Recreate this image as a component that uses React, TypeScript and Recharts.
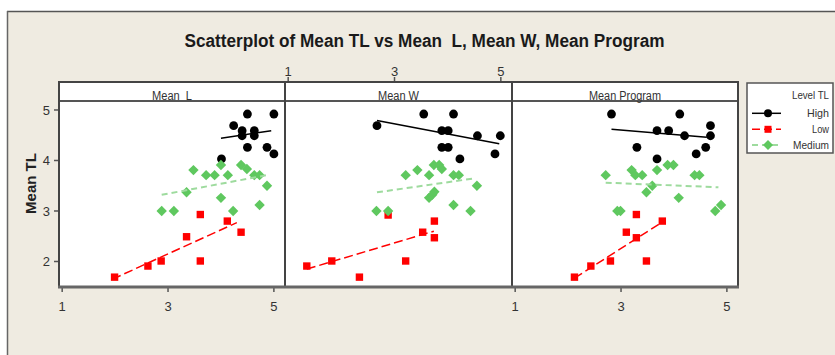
import React from 'react';
import { ScatterChart, Scatter, XAxis, YAxis, CartesianGrid } from 'recharts';

const xTicks = [1, 3, 5];
const yTicks = [2, 3, 4, 5];
const panelTitles = ['Mean  L', 'Mean W', 'Mean Program'];
const levelNames = ['High', 'Low', 'Medium'];

// Mean L panel
const meanLHigh = [[4.50, 4.92], [5.00, 4.92], [4.24, 4.69], [4.40, 4.59], [4.40, 4.49], [4.63, 4.59], [4.63, 4.49], [4.50, 4.26], [4.87, 4.26], [5.00, 4.13], [4.01, 4.03]];
const meanLLow = [[1.99, 1.69], [2.62, 1.91], [2.87, 2.01], [3.35, 2.49], [3.61, 2.93], [3.61, 2.01], [4.12, 2.80], [4.38, 2.58]];
const meanLMedium = [[3.48, 3.81], [3.72, 3.71], [3.88, 3.71], [4.00, 3.91], [4.13, 3.71], [4.38, 3.91], [4.49, 3.83], [4.63, 3.71], [4.73, 3.71], [4.87, 3.50], [3.35, 3.37], [4.00, 3.26], [2.88, 3.00], [3.11, 3.00], [4.23, 3.00], [4.73, 3.12]];
const meanLFitHigh = [[4.00, 4.44], [4.95, 4.59]];
const meanLFitLow = [[1.95, 1.65], [4.30, 2.77]];
const meanLFitMedium = [[2.88, 3.32], [4.87, 3.71]];

// Mean W panel
const meanWHigh = [[2.67, 4.69], [3.55, 4.92], [4.11, 4.92], [3.89, 4.59], [4.01, 4.59], [4.56, 4.49], [4.99, 4.49], [3.89, 4.26], [4.01, 4.26], [4.23, 4.03], [4.89, 4.13]];
const meanWLow = [[1.35, 1.91], [1.82, 2.01], [2.34, 1.69], [2.88, 2.92], [3.21, 2.01], [3.53, 2.58], [3.75, 2.80], [3.75, 2.47]];
const meanWMedium = [[3.21, 3.71], [3.43, 3.81], [3.65, 3.71], [3.74, 3.91], [3.84, 3.91], [3.89, 3.83], [4.11, 3.71], [4.21, 3.71], [4.55, 3.50], [3.65, 3.26], [3.71, 3.32], [3.75, 3.38], [2.66, 3.00], [2.88, 3.00], [4.11, 3.12], [4.43, 3.00]];
const meanWFitHigh = [[2.67, 4.79], [4.97, 4.33]];
const meanWFitLow = [[1.35, 1.85], [3.74, 2.60]];
const meanWFitMedium = [[2.67, 3.37], [4.53, 3.65]];

// Mean Program panel
const meanPHigh = [[2.82, 4.92], [4.11, 4.92], [3.68, 4.59], [3.90, 4.59], [4.20, 4.49], [4.69, 4.69], [4.69, 4.49], [3.30, 4.26], [4.60, 4.26], [4.42, 4.13], [3.68, 4.03]];
const meanPLow = [[2.12, 1.69], [2.43, 1.91], [2.80, 2.01], [3.10, 2.58], [3.29, 2.93], [3.29, 2.47], [3.48, 2.01], [3.78, 2.80]];
const meanPMedium = [[2.71, 3.71], [3.20, 3.81], [3.27, 3.71], [3.40, 3.71], [3.68, 3.81], [3.88, 3.91], [3.99, 3.91], [4.39, 3.71], [4.48, 3.71], [3.59, 3.50], [3.48, 3.37], [4.09, 3.26], [2.93, 3.00], [2.99, 3.00], [4.78, 3.00], [4.89, 3.12]];
const meanPFitHigh = [[2.82, 4.62], [4.62, 4.46]];
const meanPFitLow = [[2.12, 1.67], [3.78, 2.78]];
const meanPFitMedium = [[2.71, 3.56], [4.84, 3.47]];

const XD: [number, number] = [0.94, 5.21];
const YD: [number, number] = [1.495, 5.554];

const NARROW = "'Liberation Sans Narrow', 'Arial Narrow', 'Liberation Sans', Arial, sans-serif";
const BLACK = '#000000';
const RED = '#ff0000';
const GREEN = '#5fc85f';
const GREEN_LINE = '#9edb9e';

const toPts = (a: number[][]) => a.map(([x, y]) => ({ x, y }));

const CircleShape = (p: any) => <circle cx={p.cx} cy={p.cy} r={4.4} fill={BLACK} />;
const SquareShape = (p: any) => <rect x={p.cx - 3.7} y={p.cy - 3.7} width={7.4} height={7.4} fill={RED} />;
const DiamondShape = (p: any) => (
  <path d={`M${p.cx},${p.cy - 5.2}L${p.cx + 5.2},${p.cy}L${p.cx},${p.cy + 5.2}L${p.cx - 5.2},${p.cy}Z`} fill={GREEN} />
);
const NoShape = () => <g />;

type PanelProps = {
  left: number;
  width: number;
  showY: boolean;
  axisTop: boolean;
  high: number[][];
  low: number[][];
  medium: number[][];
  fitHigh: number[][];
  fitLow: number[][];
  fitMedium: number[][];
};

function Panel(p: PanelProps) {
  const margin = p.axisTop ? { top: 0, right: 0, bottom: 35, left: 0 } : { top: 25, right: 0, bottom: 0, left: 0 };
  return (
    <div style={{ position: 'absolute', left: p.left, top: 57 }}>
      <ScatterChart width={p.width} height={265} margin={margin} style={{ overflow: 'visible' }}>
        <CartesianGrid horizontal={false} vertical={false} fill="#ffffff" />
        <XAxis
          type="number"
          dataKey="x"
          domain={XD}
          ticks={xTicks}
          interval={0}
          allowDataOverflow
          orientation={p.axisTop ? 'top' : 'bottom'}
          height={p.axisTop ? 25 : 35}
          axisLine={false}
          tickLine={{ stroke: '#555', strokeWidth: 1.5 }}
          tickSize={5}
          tickMargin={p.axisTop ? 1 : 10}
          tick={{ fill: '#333', fontSize: 13, fontFamily: NARROW }}
        />
        <YAxis
          type="number"
          dataKey="y"
          domain={YD}
          ticks={yTicks}
          interval={0}
          allowDataOverflow
          hide={!p.showY}
          width={40}
          axisLine={false}
          tickLine={{ stroke: '#555', strokeWidth: 1.5 }}
          tickSize={5}
          tickMargin={4}
          tick={{ fill: '#333', fontSize: 13, fontFamily: NARROW }}
        />
        <Scatter data={toPts(p.high)} shape={CircleShape} isAnimationActive={false} />
        <Scatter data={toPts(p.low)} shape={SquareShape} isAnimationActive={false} />
        <Scatter data={toPts(p.medium)} shape={DiamondShape} isAnimationActive={false} />
        <Scatter data={toPts(p.fitHigh)} shape={NoShape} line={{ stroke: BLACK, strokeWidth: 1.5 }} isAnimationActive={false} />
        <Scatter data={toPts(p.fitLow)} shape={NoShape} line={{ stroke: RED, strokeWidth: 1.5, strokeDasharray: '9 4' }} isAnimationActive={false} />
        <Scatter data={toPts(p.fitMedium)} shape={NoShape} line={{ stroke: GREEN_LINE, strokeWidth: 2, strokeDasharray: '6 4' }} isAnimationActive={false} />
      </ScatterChart>
    </div>
  );
}

const panelCenters = [172, 398.5, 625];
const panelTitleLens = [40, 41, 72];
const legendY = [113.3, 129.3, 145];
const legendLens = [22, 17, 36];

export default function App() {
  return (
    <div style={{ position: 'absolute', left: 0, top: 0, width: 835, height: 355, background: '#ffffff', overflow: 'hidden' }}>
      <div style={{ position: 'absolute', left: 7, top: 11, width: 828, height: 344, background: '#efebe1' }} />
      <Panel left={19} width={266} showY axisTop={false} high={meanLHigh} low={meanLLow} medium={meanLMedium} fitHigh={meanLFitHigh} fitLow={meanLFitLow} fitMedium={meanLFitMedium} />
      <Panel left={285} width={227} showY={false} axisTop high={meanWHigh} low={meanWLow} medium={meanWMedium} fitHigh={meanWFitHigh} fitLow={meanWFitLow} fitMedium={meanWFitMedium} />
      <Panel left={512} width={226} showY={false} axisTop={false} high={meanPHigh} low={meanPLow} medium={meanPMedium} fitHigh={meanPFitHigh} fitLow={meanPFitLow} fitMedium={meanPFitMedium} />
      <svg width={835} height={355} style={{ position: 'absolute', left: 0, top: 0, pointerEvents: 'none' }}>
        <line x1={7} y1={11.5} x2={835} y2={11.5} stroke="#555" strokeWidth={1.5} />
        <line x1={7.5} y1={11} x2={7.5} y2={355} stroke="#666" strokeWidth={1.5} />
        <text x={424.5} y={47} textAnchor="middle" fontFamily={NARROW} fontWeight="bold" fontSize={18} fill="#1a1a1a" textLength={480} lengthAdjust="spacingAndGlyphs" style={{ whiteSpace: 'pre' }}>
          Scatterplot of Mean TL vs Mean  L, Mean W, Mean Program
        </text>
        <text x={31} y={183.5} transform="rotate(-90 31 183.5)" textAnchor="middle" dominantBaseline="central" fontFamily="'Liberation Sans', Arial, sans-serif" fontWeight="bold" fontSize={14} fill="#222" textLength={61} lengthAdjust="spacingAndGlyphs">
          Mean TL
        </text>
        <rect x={59} y={82} width={679} height={19} fill="#ffffff" />
        <line x1={59} y1={101} x2={738} y2={101} stroke="#555" strokeWidth={2} />
        <line x1={58} y1={82} x2={739} y2={82} stroke="#444" strokeWidth={2} />
        <line x1={59} y1={81} x2={59} y2={288} stroke="#444" strokeWidth={2} />
        <line x1={285} y1={81} x2={285} y2={288} stroke="#444" strokeWidth={2} />
        <line x1={512} y1={81} x2={512} y2={288} stroke="#444" strokeWidth={2} />
        <line x1={738} y1={81} x2={738} y2={288} stroke="#444" strokeWidth={2} />
        <line x1={58} y1={287} x2={739} y2={287} stroke="#666" strokeWidth={3} />
        {panelTitles.map((t, i) => (
          <text key={t} x={panelCenters[i]} y={99.5} textAnchor="middle" fontFamily={NARROW} fontSize={12.5} fill="#333" textLength={panelTitleLens[i]} lengthAdjust="spacingAndGlyphs" style={{ whiteSpace: 'pre' }}>
            {t}
          </text>
        ))}
        <rect x={747} y={83} width={86} height={70} fill="#ffffff" stroke="#555" strokeWidth={1.5} />
        <text x={829} y={99} textAnchor="end" fontFamily={NARROW} fontSize={10} fill="#333" textLength={37} lengthAdjust="spacingAndGlyphs">
          Level TL
        </text>
        <line x1={752} y1={legendY[0]} x2={781} y2={legendY[0]} stroke={BLACK} strokeWidth={1.5} />
        <circle cx={768} cy={legendY[0]} r={4} fill={BLACK} />
        <line x1={752} y1={legendY[1]} x2={781} y2={legendY[1]} stroke={RED} strokeWidth={1.5} strokeDasharray="8 4" />
        <rect x={764.5} y={legendY[1] - 3.5} width={7} height={7} fill={RED} />
        <line x1={752} y1={legendY[2]} x2={781} y2={legendY[2]} stroke={GREEN_LINE} strokeWidth={2} strokeDasharray="6 4" />
        <path d={`M768,${legendY[2] - 5}L773,${legendY[2]}L768,${legendY[2] + 5}L763,${legendY[2]}Z`} fill={GREEN} />
        {levelNames.map((n, i) => (
          <text key={n} x={829} y={legendY[i] + 3.5} textAnchor="end" fontFamily={NARROW} fontSize={11} fill="#333" textLength={legendLens[i]} lengthAdjust="spacingAndGlyphs">
            {n}
          </text>
        ))}
      </svg>
    </div>
  );
}
